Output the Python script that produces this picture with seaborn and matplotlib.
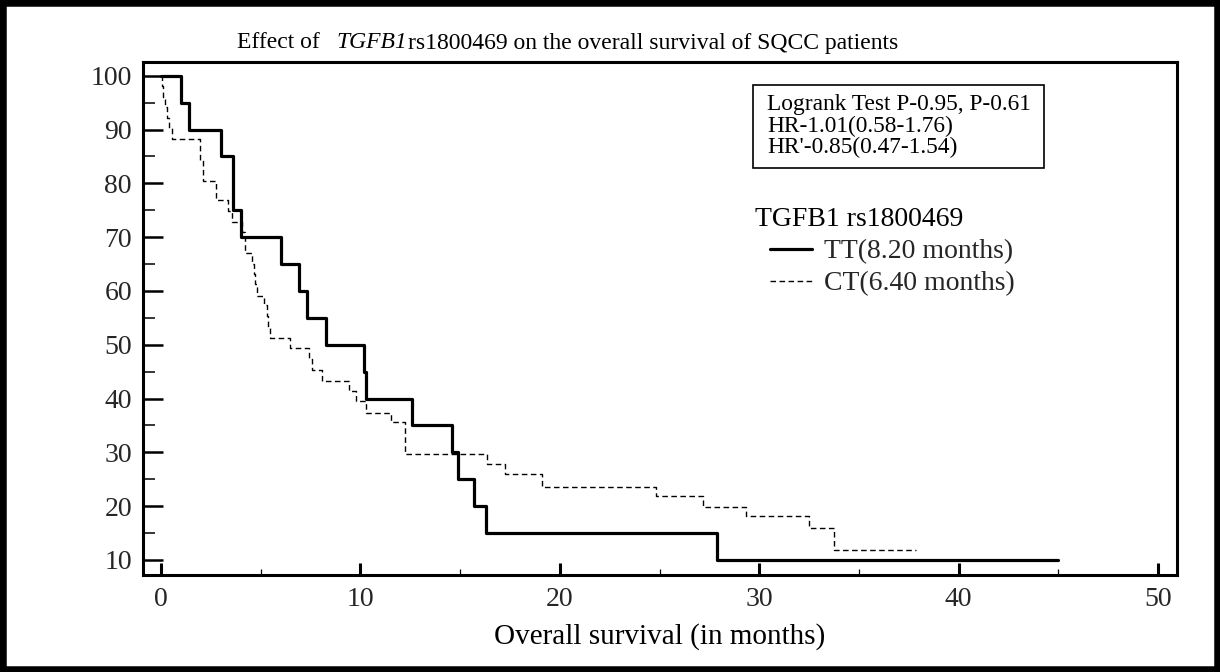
import matplotlib
matplotlib.use("Agg")
import numpy as np
import pandas as pd
import matplotlib.pyplot as plt
import seaborn as sns
from matplotlib.patches import Rectangle
from matplotlib.ticker import MultipleLocator

# ---- data ----
tt_time = [0, 1.0, 1.4, 3.0, 3.6, 4.0, 6.0, 6.9, 7.3, 8.3, 10.2, 10.3, 12.6, 14.6, 14.9, 15.7, 16.3, 27.9, 45.0]
tt_surv = [100, 95, 90, 85, 75, 70, 65, 60, 55, 50, 45, 40, 35, 30, 25, 20, 15, 10, 10]

ct_time = [0, 0.05, 0.12, 0.2, 0.3, 0.4, 0.55, 1.95, 2.12, 2.75, 3.37, 3.57, 4.05, 4.2, 4.55, 4.65,
           4.72, 4.8, 5.17, 5.3, 5.38, 5.45, 6.48, 7.4, 7.55, 8.07, 9.45, 9.8, 10.3, 11.53, 12.25,
           16.35, 17.25, 19.1, 24.8, 27.2, 29.35, 32.5, 33.75, 37.85]
ct_surv = [100, 98.0, 96.1, 94.1, 92.2, 90.2, 88.2, 84.3, 80.4, 76.9, 74.9, 72.8, 70.9, 67.0, 65.0, 63.1,
           61.2, 59.1, 57.3, 55.3, 53.3, 51.2, 49.3, 47.3, 45.3, 43.3, 41.4, 39.5, 37.4, 35.6, 29.6,
           27.8, 25.9, 23.6, 21.9, 19.9, 18.1, 15.9, 11.9, 11.9]

x_ticks = [0, 10, 20, 30, 40, 50]
y_ticks = [10, 20, 30, 40, 50, 60, 70, 80, 90, 100]
series_labels = ["TT(8.20 months)", "CT(6.40 months)"]
legend_title = "TGFB1 rs1800469"
title_pre = "Effect of"
title_gene = "TGFB1"
title_post = "rs1800469 on the overall survival of SQCC patients"
x_label = "Overall survival (in months)"
stats_lines = ["Logrank Test P-0.95, P-0.61", "HR-1.01(0.58-1.76)", "HR'-0.85(0.47-1.54)"]

# ---- style ----
sns.set_theme(style="white")
plt.rcParams["font.family"] = ["Liberation Serif", "DejaVu Serif"]

W, H = 1220, 672
fig = plt.figure(figsize=(W / 100, H / 100), dpi=100)
fig.patch.set_facecolor("white")


def fx(px):
    return px / W


def fy(py):
    return 1 - py / H


ax = fig.add_axes([fx(143), fy(575), fx(1177) - fx(143), fy(62) - fy(575)])
ax.set_facecolor("white")

df_tt = pd.DataFrame({"t": tt_time, "s": tt_surv})
df_ct = pd.DataFrame({"t": ct_time, "s": ct_surv})
sns.lineplot(data=df_tt, x="t", y="s", ax=ax, color="black", linewidth=2.3,
             drawstyle="steps-post", estimator=None, sort=False, label=series_labels[0])
sns.lineplot(data=df_ct, x="t", y="s", ax=ax, color="black", linewidth=1.0,
             linestyle=(0, (4, 2.5)), drawstyle="steps-post", estimator=None, sort=False,
             label=series_labels[1])

ax.set_xlim(-0.9, 50.95)
ax.set_ylim(7.2, 102.55)
ax.set_xticks(x_ticks)
ax.set_yticks(y_ticks)
ax.xaxis.set_minor_locator(MultipleLocator(5))
ax.yaxis.set_minor_locator(MultipleLocator(5))
ax.tick_params(axis="y", which="major", direction="in", length=14.4, width=1.8,
               labelsize=20, pad=8, color="black", left=True)
ax.tick_params(axis="y", which="minor", direction="in", length=8.6, width=1.1, color="black", left=True)
ax.tick_params(axis="x", which="major", direction="in", length=8.6, width=2.2,
               labelsize=20, pad=9, color="black", bottom=True)
ax.tick_params(axis="x", which="minor", direction="in", length=4.3, width=0.9, color="black", bottom=True)
for sp in ax.spines.values():
    sp.set_visible(True)
    sp.set_color("black")
    sp.set_linewidth(2.2)

ax.set_xlabel(x_label, fontsize=21, labelpad=7.5, color="black")
ax.set_ylabel("")

# legend: title as separate text, entries indented below it
fig.text(fx(755), fy(220), legend_title, ha="left", va="center", fontsize=20, color="black")
leg = ax.legend(handles=ax.get_lines()[:2], labels=series_labels,
                loc="upper left", bbox_to_anchor=(fx(770), fy(239)),
                bbox_transform=fig.transFigure, frameon=False, fontsize=20,
                handlelength=1.5, handletextpad=0.45, labelspacing=0.24,
                borderpad=0, borderaxespad=0)

# title with italic gene name
renderer = fig.canvas.get_renderer()
ty = fy(48.5)
x_px = 237
t1 = fig.text(fx(x_px), ty, title_pre, ha="left", va="baseline", fontsize=17, color="black")
x_px += t1.get_window_extent(renderer).width + 17
t2 = fig.text(fx(x_px), ty, title_gene, ha="left", va="baseline", fontsize=17,
              style="italic", color="black")
x_px += t2.get_window_extent(renderer).width + 1
fig.text(fx(x_px), ty, title_post, ha="left", va="baseline", fontsize=17, color="black")

# statistics box
fig.add_artist(Rectangle((fx(753), fy(168)), fx(1044) - fx(753), fy(85) - fy(168),
                         transform=fig.transFigure, fill=False, ec="black", lw=1.2))
for i, line in enumerate(stats_lines):
    fig.text(fx(767), fy(104.5 + 21.5 * i), line, ha="left", va="center", fontsize=16.8, color="black")

# outer figure frame
fig.add_artist(Rectangle((0, 0), 1, 1, transform=fig.transFigure, fill=False,
                         ec="black", lw=9, clip_on=False))

fig.savefig("out.png", dpi=100)
